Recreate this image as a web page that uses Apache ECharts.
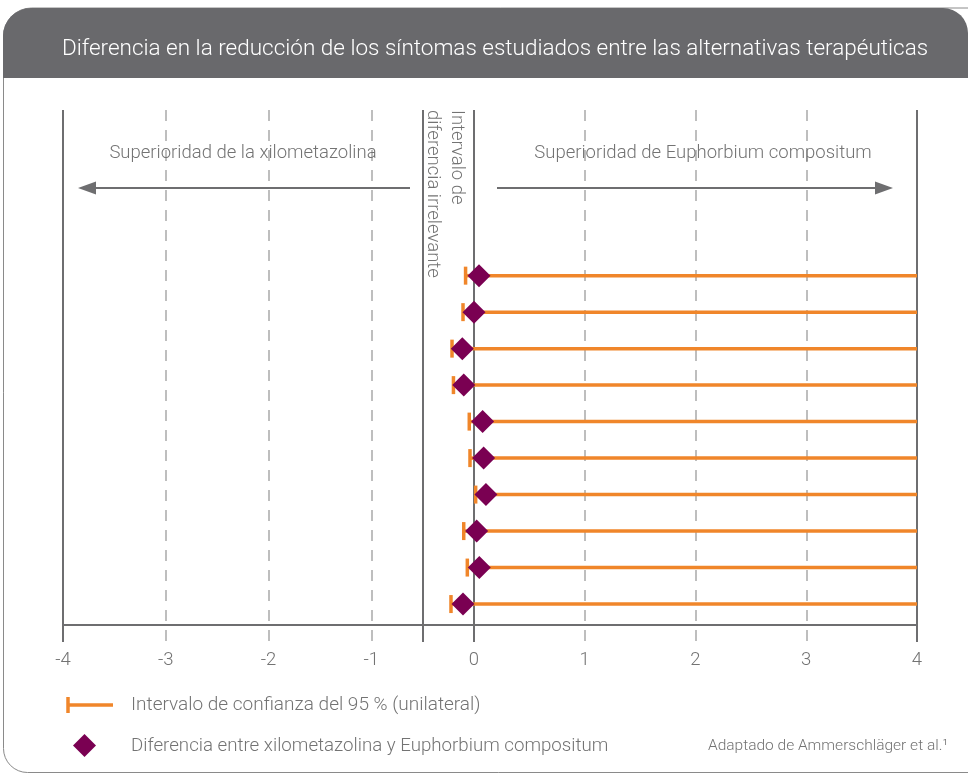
<!DOCTYPE html>
<html>
<head>
<meta charset="utf-8">
<script src="https://cdn.jsdelivr.net/npm/echarts@6/dist/echarts.min.js"></script>
<style>
  html, body { margin: 0; padding: 0; background: #ffffff; }
  #chart { width: 968px; height: 775px; }
</style>
</head>
<body>
<div id="chart"></div>
<script>
// ---------- data ----------
const titleText = 'Diferencia en la reducción de los síntomas estudiados entre las alternativas terapéuticas';
const rowIds = [1, 2, 3, 4, 5, 6, 7, 8, 9, 10];
const estimates = [0.045, 0.0, -0.114, -0.10, 0.078, 0.087, 0.108, 0.024, 0.048, -0.107];
const ciLower = [-0.082, -0.107, -0.214, -0.20, -0.046, -0.039, 0.015, -0.10, -0.065, -0.224];
const ciUpper = [4, 4, 4, 4, 4, 4, 4, 4, 4, 4];
const leftTicks = [-4, -3, -2, -1];
const rightTicks = [0, 1, 2, 3, 4];
const irrelevanceBound = -0.5;
const leftLabel = 'Superioridad de la xilometazolina';
const rightLabel = 'Superioridad de Euphorbium compositum';
const irrelevanceLabel = 'Intervalo de\ndiferencia irrelevante';
const legendCI = 'Intervalo de confianza del 95 % (unilateral)';
const legendDiff = 'Diferencia entre xilometazolina y Euphorbium compositum';
const sourceText = 'Adaptado de Ammerschläger et al.¹';

// ---------- style ----------
const FONT = 'Roboto';
const ORANGE = '#f0862a';
const PURPLE = '#7a0052';
const TEXT_GRAY = '#737373';
const LINE_GRAY = '#6e6e70';
const DASH_GRAY = '#a9a9a9';

const chart = echarts.init(document.getElementById('chart'), null, { renderer: 'canvas' });

const ciData = rowIds.map((r, i) => [ciLower[i], r, ciUpper[i]]);
const leftPts = rowIds.map((r, i) => [estimates[i], r]).filter(p => p[0] < 0);
const rightPts = rowIds.map((r, i) => [estimates[i], r]).filter(p => p[0] >= 0);

function ciRenderer(xMin, xMax) {
  return function (params, api) {
    const lower = api.value(0), row = api.value(1), upper = api.value(2);
    const a = Math.max(lower, xMin), b = Math.min(upper, xMax);
    const children = [];
    if (a < b) {
      const p1 = api.coord([a, row]), p2 = api.coord([b, row]);
      children.push({ type: 'line', shape: { x1: p1[0], y1: p1[1], x2: p2[0], y2: p2[1] },
        style: { stroke: ORANGE, lineWidth: 3.5, lineCap: 'butt' } });
    }
    if (lower >= xMin && lower < xMax) {
      const c = api.coord([lower, row]);
      children.push({ type: 'line', shape: { x1: c[0], y1: c[1] - 9, x2: c[0], y2: c[1] + 9 },
        style: { stroke: ORANGE, lineWidth: 3.5, lineCap: 'butt' } });
    }
    return { type: 'group', children };
  };
}

function vLines(solid, dashed) {
  return {
    silent: true, symbol: 'none', z: 1,
    label: { show: false },
    emphasis: { disabled: true },
    data: solid.map(v => ({ xAxis: v, lineStyle: { color: LINE_GRAY, width: 2, type: 'solid' } }))
      .concat(dashed.map(v => ({ xAxis: v, lineStyle: { color: DASH_GRAY, width: 1.5, type: [11, 9] } })))
  };
}

const axisCommon = {
  type: 'value', interval: 1, offset: -17,
  axisLine: { show: true, onZero: false, lineStyle: { color: LINE_GRAY, width: 2 } },
  axisTick: { show: false },
  splitLine: { show: false },
  axisLabel: { color: TEXT_GRAY, fontSize: 18.5, fontFamily: FONT, fontWeight: 300, margin: 26 }
};

const yCommon = { type: 'value', inverse: true, min: -3.54, max: 11.04, show: false };

const option = {
  backgroundColor: '#ffffff',
  animation: false,
  title: {
    text: titleText, left: 490, top: 33, textAlign: 'center',
    textStyle: { color: '#ffffff', fontSize: 22.5, fontFamily: FONT, fontWeight: 300 }
  },
  grid: [
    { left: 63, top: 110, width: 411, height: 532, containLabel: false },
    { left: 474, top: 110, width: 443, height: 532, containLabel: false }
  ],
  xAxis: [
    Object.assign({}, axisCommon, { gridIndex: 0, min: -4, max: 0,
      axisLabel: Object.assign({}, axisCommon.axisLabel, { formatter: v => (leftTicks.indexOf(v) >= 0 ? String(v) : '') }) }),
    Object.assign({}, axisCommon, { gridIndex: 1, min: 0, max: 4,
      axisLabel: Object.assign({}, axisCommon.axisLabel, { formatter: v => (rightTicks.indexOf(v) >= 0 ? String(v) : '') }) })
  ],
  yAxis: [
    Object.assign({ gridIndex: 0 }, yCommon),
    Object.assign({ gridIndex: 1 }, yCommon)
  ],
  series: [
    {
      type: 'custom', name: 'IC izq', xAxisIndex: 0, yAxisIndex: 0, z: 6,
      renderItem: ciRenderer(-4, 0), data: ciData, silent: true,
      markLine: vLines([-4, irrelevanceBound, 0], [-3, -2, -1])
    },
    {
      type: 'custom', name: 'IC der', xAxisIndex: 1, yAxisIndex: 1, z: 6,
      renderItem: ciRenderer(0, 4), data: ciData, silent: true,
      markLine: vLines([4], [1, 2, 3])
    },
    {
      type: 'scatter', xAxisIndex: 0, yAxisIndex: 0, z: 10, clip: false,
      symbol: 'diamond', symbolSize: 23, itemStyle: { color: PURPLE, opacity: 1 },
      data: leftPts, silent: true
    },
    {
      type: 'scatter', xAxisIndex: 1, yAxisIndex: 1, z: 10, clip: false,
      symbol: 'diamond', symbolSize: 23, itemStyle: { color: PURPLE, opacity: 1 },
      data: rightPts, silent: true
    }
  ],
  graphic: [
    // card body
    { type: 'rect', z: -10, silent: true,
      shape: { x: 3.5, y: 8, width: 1000, height: 764.5, r: [28, 25, 0, 24] },
      style: { fill: '#ffffff', stroke: '#8a8a8a', lineWidth: 1 } },
    // header
    { type: 'rect', z: -9, silent: true,
      shape: { x: 3, y: 8, width: 965, height: 70, r: [28, 25, 0, 0] },
      style: { fill: '#69696c' } },
    // direction labels
    { type: 'text', z: 20, silent: true, x: 243, y: 153,
      style: { text: leftLabel, fill: TEXT_GRAY, font: '300 18.5px ' + FONT, align: 'center', verticalAlign: 'middle' } },
    { type: 'text', z: 20, silent: true, x: 703, y: 153,
      style: { text: rightLabel, fill: TEXT_GRAY, font: '300 18.5px ' + FONT, align: 'center', verticalAlign: 'middle' } },
    // arrows
    { type: 'line', z: 20, silent: true, shape: { x1: 410, y1: 188, x2: 94, y2: 188 },
      style: { stroke: LINE_GRAY, lineWidth: 2 } },
    { type: 'polygon', z: 20, silent: true, shape: { points: [[78, 188], [96, 181.5], [96, 194.5]] },
      style: { fill: LINE_GRAY } },
    { type: 'line', z: 20, silent: true, shape: { x1: 497, y1: 188, x2: 877, y2: 188 },
      style: { stroke: LINE_GRAY, lineWidth: 2 } },
    { type: 'polygon', z: 20, silent: true, shape: { points: [[893, 188], [875, 181.5], [875, 194.5]] },
      style: { fill: LINE_GRAY } },
    // rotated irrelevance label
    { type: 'text', z: 20, silent: true, x: 469, y: 110, rotation: -Math.PI / 2,
      style: { text: irrelevanceLabel, fill: TEXT_GRAY, font: '300 18.5px ' + FONT, lineHeight: 24,
        align: 'left', verticalAlign: 'top' } },
    // legend: CI
    { type: 'line', z: 20, silent: true, shape: { x1: 67, y1: 705, x2: 113, y2: 705 },
      style: { stroke: ORANGE, lineWidth: 3.5 } },
    { type: 'line', z: 20, silent: true, shape: { x1: 68, y1: 697, x2: 68, y2: 713 },
      style: { stroke: ORANGE, lineWidth: 3.5 } },
    { type: 'text', z: 20, silent: true, x: 131, y: 705,
      style: { text: legendCI, fill: TEXT_GRAY, font: '300 19px ' + FONT, align: 'left', verticalAlign: 'middle' } },
    // legend: diamond
    { type: 'polygon', z: 20, silent: true, shape: { points: [[84.5, 734], [96, 745.5], [84.5, 757], [73, 745.5]] },
      style: { fill: PURPLE } },
    { type: 'text', z: 20, silent: true, x: 131, y: 746,
      style: { text: legendDiff, fill: TEXT_GRAY, font: '300 18.7px ' + FONT, align: 'left', verticalAlign: 'middle' } },
    { type: 'text', z: 20, silent: true, x: 948, y: 746,
      style: { text: sourceText, fill: TEXT_GRAY, font: '300 15.5px ' + FONT, align: 'right', verticalAlign: 'middle' } }
  ]
};

chart.setOption(option);
</script>
</body>
</html>
